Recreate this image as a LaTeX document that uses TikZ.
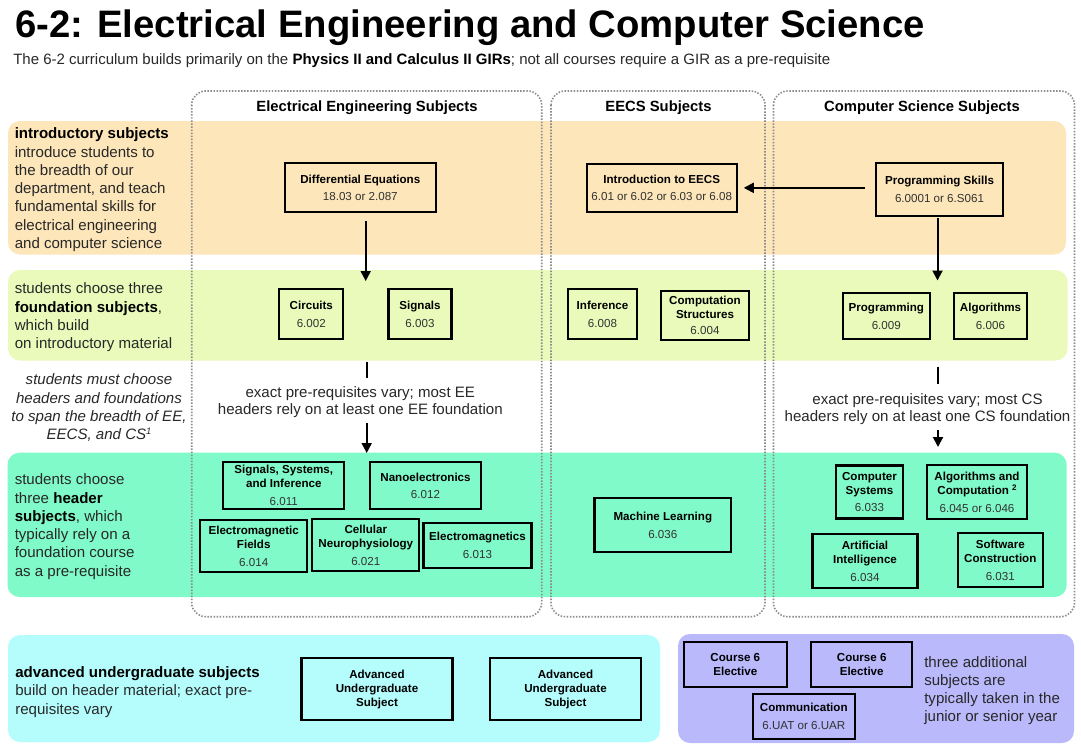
\documentclass[tikz,border=0pt]{standalone}
\usepackage{fontspec}
\setmainfont{Liberation Sans}
\usetikzlibrary{arrows.meta}
\definecolor{bOrange}{RGB}{253,230,186}
\definecolor{bLime}{RGB}{233,250,186}
\definecolor{bMint}{RGB}{128,250,200}
\definecolor{bCyan}{RGB}{181,252,252}
\definecolor{bLav}{RGB}{185,185,252}
\definecolor{txt}{RGB}{40,40,40}
\definecolor{numc}{RGB}{50,50,50}
\definecolor{dotc}{RGB}{140,140,140}
\newcommand\mystrut{\rule{0pt}{10pt}}
\newcommand\cnum[1]{\\[2.8pt]{\mdseries\color{numc}#1}}
\begin{document}
\begin{tikzpicture}[x=0.75pt,y=-0.75pt,
  band/.style={rounded corners=9pt, draw=none},
  col/.style={draw=dotc, line width=1.2pt, dash pattern=on 1.1pt off 1.2pt, rounded corners=10.5pt},
  course/.style={draw=black, line width=1.6pt, inner sep=0pt, align=center, font=\fontsize{8.7}{10.5}\selectfont\bfseries},
  sz/.style 2 args={minimum width={#1*0.75pt}, minimum height={#2*0.75pt}},
  lefttext/.style={inner sep=0pt, text=txt, anchor=north west, align=left, font=\fontsize{11.3}{13.7}\selectfont},
  midtext/.style={inner sep=0pt, text=txt, anchor=north, align=center, font=\fontsize{11.3}{13}\selectfont},
  colhead/.style={inner sep=0pt, anchor=base, font=\fontsize{11.1}{13}\selectfont\bfseries},
  arr/.style={line width=1.5pt, -{Triangle[length=7.5pt,width=7.5pt]}},
  stub/.style={line width=1.5pt},
]
\fill[white] (0,0) rectangle (1081,750);
\useasboundingbox (0,0) rectangle (1081,750);

% title
\node[anchor=base west, inner sep=0pt, font=\fontsize{28.7}{34}\selectfont\bfseries] (title) at (15,37) {6-2: Electrical Engineering and Computer Science};
\node[anchor=base west, inner sep=0pt, text=txt, font=\fontsize{11.25}{13.5}\selectfont] (subtitle) at (13,64) {The 6-2 curriculum builds primarily on the \textbf{\color{black}Physics II and Calculus II GIRs}; not all courses require a GIR as a pre-requisite};

% bands
\fill[bOrange, band] (8,121) rectangle (1066,254.5);
\fill[bLime, band] (8,270) rectangle (1067.5,360.5);
\fill[bMint, band] (7.5,452.7) rectangle (1066.7,597);
\fill[bCyan, band] (8,635) rectangle (660,742);
\fill[bLav, band] (678,634) rectangle (1074,743);

% columns
\draw[col] (191.7,91) rectangle (541.7,616.7);
\draw[col] (551,91) rectangle (765,616.7);
\draw[col] (773.5,91) rectangle (1074.5,616.7);
\node[colhead] (eeh) at (367,111.5) {Electrical Engineering Subjects};
\node[colhead] (eecsh) at (658.5,111.5) {EECS Subjects};
\node[colhead] (csh) at (922,111.5) {Computer Science Subjects};

% left texts
\node[lefttext] (introTxt) at (14.5,125.2) {\mystrut\textbf{\color{black}introductory subjects}\\introduce students to\\the breadth of our\\department, and teach\\fundamental skills for\\electrical engineering\\and computer science};
\node[lefttext] (foundTxt) at (14.5,280.2) {\mystrut students choose three\\\textbf{\color{black}foundation subjects},\\which build\\on introductory material};
\node[lefttext, anchor=north, align=center, font=\fontsize{11.3}{13.7}\selectfont\itshape] (spanTxt) at (99,371.2) {\mystrut students must choose\\headers and foundations\\to span the breadth of EE,\\EECS, and CS{\fontsize{7}{8}\selectfont\raisebox{3.5pt}{1}}};
\node[lefttext] (headTxt) at (14.5,471.2) {\mystrut students choose\\three \textbf{\color{black}header}\\\textbf{\color{black}subjects}, which\\typically rely on a\\foundation course\\as a pre-requisite};
\node[lefttext] (advTxt) at (15,663.9) {\mystrut\textbf{\color{black}advanced undergraduate subjects}\\build on header material; exact pre-\\requisites vary};
\node[lefttext] (addTxt) at (924,653.5) {\mystrut three additional\\subjects are\\typically taken in the\\junior or senior year};

% notes between bands
\node[midtext] (eeNote) at (360.3,383.9) {\mystrut exact pre-requisites vary; most EE\\headers rely on at least one EE foundation};
\node[midtext] (csNote) at (927.5,390.7) {\mystrut exact pre-requisites vary; most CS\\headers rely on at least one CS foundation};

% introductory
\node[course, sz={151}{49}] (de) at (360.3,187.8) {Differential Equations\cnum{18.03 or 2.087}};
\node[course, sz={150}{47.7}] (intro) at (661.7,187.85) {Introduction to EECS\cnum{6.01 or 6.02 or 6.03 or 6.08}};
\node[course, sz={127}{53}] (ps) at (939.5,189.2) {Programming Skills\cnum{6.0001 or 6.S061}};

% foundation
\node[course, sz={64}{50}] (circ) at (311.3,314) {Circuits\cnum{6.002}};
\node[course, sz={63}{50}] (sig) at (420,314) {Signals\cnum{6.003}};
\node[course, sz={69}{50}] (inf) at (602.5,314) {Inference\cnum{6.008}};
\node[course, sz={88}{49.3}] (cstr) at (705,315.3) {Computation\\Structures\\[1pt]{\mdseries\color{numc}6.004}};
\node[course, sz={87}{46}] (prog) at (886.3,316) {Programming\cnum{6.009}};
\node[course, sz={73}{46}] (alg) at (990.5,316) {Algorithms\cnum{6.006}};

% header
\node[course, sz={121}{47}] (ssi) at (283.8,485.3) {Signals, Systems,\\and Inference\cnum{6.011}};
\node[course, sz={111}{47}] (nano) at (425.5,485.8) {Nanoelectronics\cnum{6.012}};
\node[course, sz={107}{52}] (emf) at (253.7,546) {Electromagnetic\\Fields\cnum{6.014}};
\node[course, sz={107}{52.6}] (cell) at (365.8,545) {Cellular\\Neurophysiology\cnum{6.021}};
\node[course, sz={108}{45.6}] (em) at (477.5,545.5) {Electromagnetics\cnum{6.013}};
\node[course, sz={136.5}{54}] (ml) at (662.8,525) {Machine Learning\cnum{6.036}};
\node[course, sz={67}{53}] (csys) at (869.5,492) {Computer\\Systems\cnum{6.033}};
\node[course, sz={100}{54}] (algc) at (977,492) {Algorithms and\\Computation {\fontsize{6}{7}\selectfont\raisebox{3pt}{2}}\cnum{6.045 or 6.046}};
\node[course, sz={105}{54}] (ai) at (865,561) {Artificial\\Intelligence\cnum{6.034}};
\node[course, sz={85}{54}] (sc) at (1000.3,560) {Software\\Construction\cnum{6.031}};

% advanced
\node[course, sz={151}{62}] (adv1) at (377,689) {Advanced\\Undergraduate\\Subject};
\node[course, sz={151}{62}] (adv2) at (565.5,689) {Advanced\\Undergraduate\\Subject};
\node[course, sz={102.7}{44.4}] (el1) at (735.3,664.5) {Course 6\\Elective};
\node[course, sz={101.3}{44.4}] (el2) at (861.7,664.5) {Course 6\\Elective};
\node[course, sz={102.3}{45}] (comm) at (803.8,716.5) {Communication\cnum{6.UAT or 6.UAR}};

% connectors
\draw[arr, shorten <=7.5pt, shorten >=4.5pt] (ps.west |- intro.east) -- (intro.east);
\coordinate (deA) at (365.7,221);
\coordinate (deB) at (365.7,281);
\draw[arr] (deA) -- (deB);
\coordinate (psA) at (937.5,218);
\coordinate (psB) at (937.5,280.5);
\draw[arr] (psA) -- (psB);
\coordinate (eeS1) at (366.7,361.5);
\coordinate (eeS2) at (366.7,377.5);
\draw[stub] (eeS1) -- (eeS2);
\coordinate (eeA) at (366.7,423);
\coordinate (eeB) at (366.7,453);
\draw[arr] (eeA) -- (eeB);
\coordinate (csS1) at (938,366.7);
\coordinate (csS2) at (938,384.3);
\draw[stub] (csS1) -- (csS2);
\coordinate (csA) at (938,430);
\coordinate (csB) at (938,447);
\draw[arr] (csA) -- (csB);
\end{tikzpicture}
\end{document}
